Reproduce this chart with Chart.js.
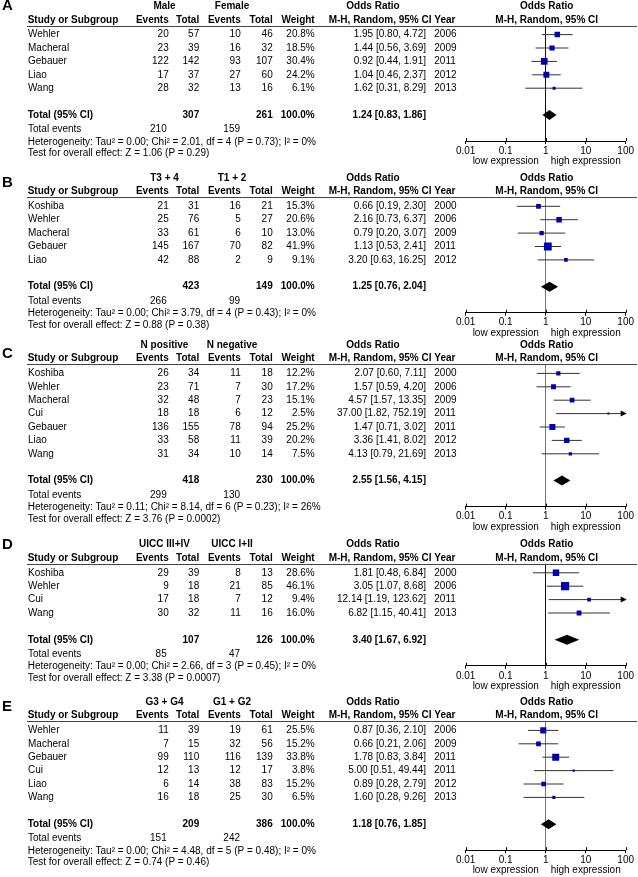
<!DOCTYPE html>
<html>
<head>
<meta charset="utf-8">
<script src="https://cdn.jsdelivr.net/npm/chart.js@4.4.0/dist/chart.umd.min.js"></script>
<style>
  html, body { margin: 0; padding: 0; background: #fff; }
  #wrap { position: relative; width: 638px; height: 877px; }
  #wrap canvas { position: absolute; left: 0; }
</style>
</head>
<body>
<div id="wrap"></div>
<script>
const panelLetters = ['A', 'B', 'C', 'D', 'E'];
const groupLabels = [['Male', 'Female'], ['T3 + 4', 'T1 + 2'], ['N positive', 'N negative'], ['UICC III+IV', 'UICC I+II'], ['G3 + G4', 'G1 + G2']];
const studies = [
    ['Wehler', 'Macheral', 'Gebauer', 'Liao', 'Wang'],
    ['Koshiba', 'Wehler', 'Macheral', 'Gebauer', 'Liao'],
    ['Koshiba', 'Wehler', 'Macheral', 'Cui', 'Gebauer', 'Liao', 'Wang'],
    ['Koshiba', 'Wehler', 'Cui', 'Wang'],
    ['Wehler', 'Macheral', 'Gebauer', 'Cui', 'Liao', 'Wang']
];
const years = [
    [2006, 2009, 2011, 2012, 2013],
    [2000, 2006, 2009, 2011, 2012],
    [2000, 2006, 2009, 2011, 2011, 2012, 2013],
    [2000, 2006, 2011, 2013],
    [2006, 2009, 2011, 2011, 2012, 2013]
];
const events1 = [[20, 23, 122, 17, 28], [21, 25, 33, 145, 42], [26, 23, 32, 18, 136, 33, 31], [29, 9, 17, 30], [11, 7, 99, 12, 6, 16]];
const totals1 = [[57, 39, 142, 37, 32], [31, 76, 61, 167, 88], [34, 71, 48, 18, 155, 58, 34], [39, 18, 18, 32], [39, 15, 110, 13, 14, 18]];
const events2 = [[10, 16, 93, 27, 13], [16, 5, 6, 70, 2], [11, 7, 7, 6, 78, 11, 10], [8, 21, 7, 11], [19, 32, 116, 12, 38, 25]];
const totals2 = [[46, 32, 107, 60, 16], [21, 27, 10, 82, 9], [18, 30, 23, 12, 94, 39, 14], [13, 85, 12, 16], [61, 56, 139, 17, 83, 30]];
const weights = [[20.8, 18.5, 30.4, 24.2, 6.1], [15.3, 20.6, 13.0, 41.9, 9.1], [12.2, 17.2, 15.1, 2.5, 25.2, 20.2, 7.5], [28.6, 46.1, 9.4, 16.0], [25.5, 15.2, 33.8, 3.8, 15.2, 6.5]];
const oddsRatios = [[1.95, 1.44, 0.92, 1.04, 1.62], [0.66, 2.16, 0.79, 1.13, 3.20], [2.07, 1.57, 4.57, 37.00, 1.47, 3.36, 4.13], [1.81, 3.05, 12.14, 6.82], [0.87, 0.66, 1.78, 5.00, 0.89, 1.60]];
const ciLow = [[0.80, 0.56, 0.44, 0.46, 0.31], [0.19, 0.73, 0.20, 0.53, 0.63], [0.60, 0.59, 1.57, 1.82, 0.71, 1.41, 0.79], [0.48, 1.07, 1.19, 1.15], [0.36, 0.21, 0.83, 0.51, 0.28, 0.28]];
const ciHigh = [[4.72, 3.69, 1.91, 2.37, 8.29], [2.30, 6.37, 3.07, 2.41, 16.25], [7.11, 4.20, 13.35, 752.19, 3.02, 8.02, 21.69], [6.84, 8.68, 123.62, 40.41], [2.10, 2.06, 3.84, 49.44, 2.79, 9.26]];
const sumTotal1 = [307, 423, 418, 107, 209];
const sumTotal2 = [261, 149, 230, 126, 386];
const sumEvents1 = [210, 266, 299, 85, 151];
const sumEvents2 = [159, 99, 130, 47, 242];
const pooledOR = [1.24, 1.25, 2.55, 3.40, 1.18];
const pooledLow = [0.83, 0.76, 1.56, 1.67, 0.76];
const pooledHigh = [1.86, 2.04, 4.15, 6.92, 1.85];
const heterogeneity = [
    'Heterogeneity: Tau² = 0.00; Chi² = 2.01, df = 4 (P = 0.73); I² = 0%',
    'Heterogeneity: Tau² = 0.00; Chi² = 3.79, df = 4 (P = 0.43); I² = 0%',
    'Heterogeneity: Tau² = 0.11; Chi² = 8.14, df = 6 (P = 0.23); I² = 26%',
    'Heterogeneity: Tau² = 0.00; Chi² = 2.66, df = 3 (P = 0.45); I² = 0%',
    'Heterogeneity: Tau² = 0.00; Chi² = 4.48, df = 5 (P = 0.48); I² = 0%'
];
const overallTest = [
    'Test for overall effect: Z = 1.06 (P = 0.29)',
    'Test for overall effect: Z = 0.88 (P = 0.38)',
    'Test for overall effect: Z = 3.76 (P = 0.0002)',
    'Test for overall effect: Z = 3.38 (P = 0.0007)',
    'Test for overall effect: Z = 0.74 (P = 0.46)'
];
const tickValues = [0.01, 0.1, 1, 10, 100];

// layout
const panelTop = [0, 170, 339, 538, 695, 877];
const firstRow = [34.6, 36.3, 34.4, 34.8, 35.4];
const letterY = [6, 13, 15, 7, 11.5];
const refColor = ['#111', '#777', '#777', '#111', '#777'];
const ROW = 13.4;
const FONT = "'Liberation Sans', Arial, Helvetica, sans-serif";
const col = {name: 28, ev1: 168.7, tot1: 199.2, ev2: 240.7, tot2: 272.7, weight: 314.7, or: 426, year: 434.3};

const fmtCI = (o, l, h) => o.toFixed(2) + ' [' + l.toFixed(2) + ', ' + h.toFixed(2) + ']';

const forestText = {
    id: 'forestText',
    afterDraw(chart, args, opts) {
        const p = opts.panel;
        const ctx = chart.ctx;
        const xs = chart.scales.x, ys = chart.scales.y;
        const n = studies[p].length;
        const r0 = ys.getPixelForValue(0);
        const totalY = ys.getPixelForValue(n + 1);
        const axisY = chart.chartArea.bottom;
        const txt = (s, x, y, align, bold, size) => {
            ctx.font = (bold ? 'bold ' : '') + (size || 10) + 'px ' + FONT;
            ctx.textAlign = align;
            ctx.fillText(String(s), x, y);
        };
        ctx.save();
        ctx.fillStyle = '#000';
        ctx.textBaseline = 'middle';

        txt(panelLetters[p], 2, letterY[p], 'left', true, 15);

        // headers
        const h1 = r0 - 28.3, h2 = r0 - 14.7;
        const plotMid = xs.getPixelForValue(1) + 1;
        txt(groupLabels[p][0], 164.5, h1, 'center', true);
        txt(groupLabels[p][1], 232, h1, 'center', true);
        txt('Odds Ratio', 373, h1, 'center', true);
        txt('Odds Ratio', plotMid, h1, 'center', true);
        txt('Study or Subgroup', 27.7, h2, 'left', true);
        txt('Events', col.ev1, h2, 'right', true);
        txt('Total', col.tot1, h2, 'right', true);
        txt('Events', col.ev2, h2, 'right', true);
        txt('Total', col.tot2, h2, 'right', true);
        txt('Weight', col.weight, h2, 'right', true);
        txt('M-H, Random, 95% CI', 431.5, h2, 'right', true);
        txt('Year', col.year, h2, 'left', true);
        txt('M-H, Random, 95% CI', plotMid, h2, 'center', true);

        ctx.strokeStyle = '#444';
        ctx.lineWidth = 1;
        const lineY = Math.round(r0 - 9) + 0.5;
        ctx.beginPath();
        ctx.moveTo(27, lineY);
        ctx.lineTo(637, lineY);
        ctx.stroke();

        // study rows
        studies[p].forEach((s, i) => {
            const y = ys.getPixelForValue(i);
            txt(s, col.name, y, 'left');
            txt(events1[p][i], col.ev1, y, 'right');
            txt(totals1[p][i], col.tot1, y, 'right');
            txt(events2[p][i], col.ev2, y, 'right');
            txt(totals2[p][i], col.tot2, y, 'right');
            txt(weights[p][i].toFixed(1) + '%', col.weight, y, 'right');
            txt(fmtCI(oddsRatios[p][i], ciLow[p][i], ciHigh[p][i]), col.or, y, 'right');
            txt(years[p][i], col.year, y, 'left');
        });

        // total rows
        txt('Total (95% CI)', 27.7, totalY, 'left', true);
        txt(sumTotal1[p], col.tot1, totalY, 'right', true);
        txt(sumTotal2[p], col.tot2, totalY, 'right', true);
        txt('100.0%', col.weight, totalY, 'right', true);
        txt(fmtCI(pooledOR[p], pooledLow[p], pooledHigh[p]), col.or, totalY, 'right', true);
        txt('Total events', 28, totalY + 14.5, 'left');
        txt(sumEvents1[p], 166.7, totalY + 14.5, 'right');
        txt(sumEvents2[p], 240, totalY + 14.5, 'right');
        txt(heterogeneity[p], 27.7, totalY + 26.8, 'left');
        txt(overallTest[p], 27.7, totalY + 38.5, 'left');

        // tick marks above the axis
        ctx.strokeStyle = '#000';
        tickValues.forEach(v => {
            const x = Math.round(xs.getPixelForValue(v)) + 0.5;
            ctx.beginPath();
            ctx.moveTo(x, axisY - 3);
            ctx.lineTo(x, axisY);
            ctx.stroke();
        });
        txt('low expression', xs.getPixelForValue(0.1), axisY + 20.5, 'center');
        txt('high expression', xs.getPixelForValue(10), axisY + 20.5, 'center');

        // pooled diamond
        const dl = xs.getPixelForValue(pooledLow[p]);
        const dm = xs.getPixelForValue(pooledOR[p]);
        const dh = xs.getPixelForValue(pooledHigh[p]);
        ctx.beginPath();
        ctx.moveTo(dl, totalY);
        ctx.lineTo(dm, totalY - 5);
        ctx.lineTo(dh, totalY);
        ctx.lineTo(dm, totalY + 5);
        ctx.closePath();
        ctx.fill();

        // arrows for intervals beyond the axis
        ciHigh[p].forEach((h, i) => {
            if (h <= tickValues[tickValues.length - 1]) return;
            const y = ys.getPixelForValue(i);
            const x = xs.right + 1;
            ctx.beginPath();
            ctx.moveTo(x, y);
            ctx.lineTo(x - 6, y - 3);
            ctx.lineTo(x - 6, y + 3);
            ctx.closePath();
            ctx.fill();
        });
        ctx.restore();
    }
};

function drawForest(p) {
    const H = panelTop[p + 1] - panelTop[p];
    const n = studies[p].length;
    const r0 = firstRow[p];
    const axisY = r0 + (n + 1) * ROW + 26;
    const canvas = document.createElement('canvas');
    canvas.width = 638;
    canvas.height = H;
    canvas.style.top = panelTop[p] + 'px';
    document.getElementById('wrap').appendChild(canvas);

    const whiskers = studies[p].map((s, i) => ({
        data: [{x: ciLow[p][i], y: i}, {x: ciHigh[p][i], y: i}],
        showLine: true,
        borderColor: '#333',
        borderWidth: 1,
        pointRadius: 0,
        order: 1
    }));
    const squares = {
        data: studies[p].map((s, i) => ({x: oddsRatios[p][i], y: i})),
        pointStyle: 'rect',
        pointRadius: weights[p].map(w => Math.max(1.4, 0.85 * Math.sqrt(w))),
        backgroundColor: '#0000b0',
        borderWidth: 0,
        order: 0
    };

    new Chart(canvas, {
        type: 'scatter',
        data: {datasets: [squares].concat(whiskers)},
        options: {
            responsive: false,
            animation: false,
            events: [],
            layout: {padding: {left: 465.7, right: 12.3, top: r0 - 9, bottom: H - axisY - 16}},
            plugins: {legend: {display: false}, tooltip: {enabled: false}, forestText: {panel: p}},
            scales: {
                x: {
                    type: 'logarithmic',
                    min: 0.01,
                    max: 100,
                    afterBuildTicks: s => { s.ticks = tickValues.map(v => ({value: v})); },
                    afterFit: s => { s.height = 16; },
                    ticks: {autoSkip: false, maxRotation: 0, padding: 1, color: '#000',
                        font: {family: FONT, size: 10}, callback: v => String(v)},
                    grid: {
                        color: c => (c.tick && c.tick.value === 1) ? refColor[p] : 'rgba(0,0,0,0)',
                        tickColor: '#000',
                        tickLength: 3,
                        lineWidth: 1
                    },
                    border: {display: true, color: '#000', width: 1}
                },
                y: {type: 'linear', display: false, reverse: true, min: -9 / ROW, max: (axisY - r0) / ROW}
            }
        },
        plugins: [forestText]
    });
}

for (let p = 0; p < 5; p++) drawForest(p);
</script>
</body>
</html>
